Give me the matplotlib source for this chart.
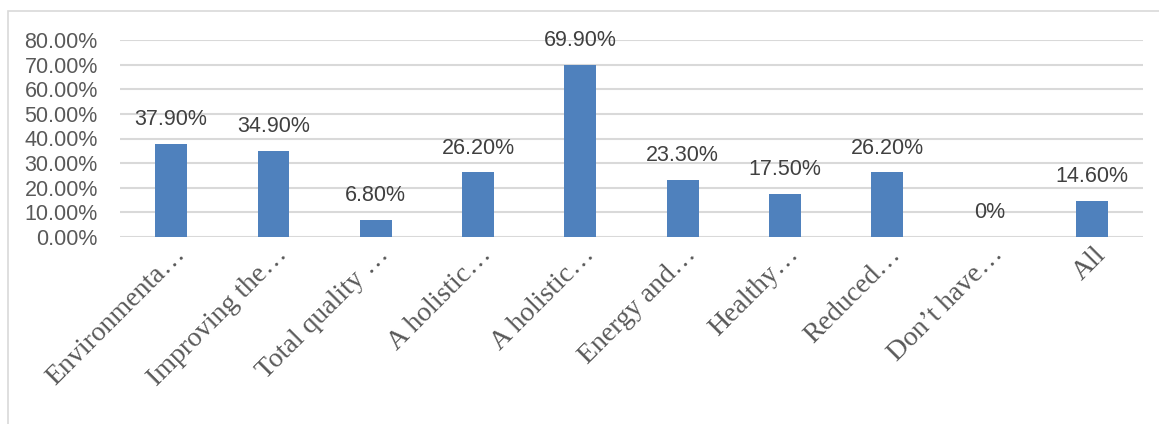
import matplotlib
matplotlib.use("Agg")
import matplotlib.pyplot as plt
import matplotlib.transforms as mtransforms
from matplotlib.patches import Rectangle
from matplotlib.ticker import FuncFormatter

# data
categories = ["Environmenta…", "Improving the…", "Total quality …", "A holistic…",
              "A holistic…", "Energy and…", "Healthy…", "Reduced…",
              "Don’t have…", "All"]
values = [37.9, 34.9, 6.8, 26.2, 69.9, 23.3, 17.5, 26.2, 0.0, 14.6]
value_labels = ["37.90%", "34.90%", "6.80%", "26.20%", "69.90%",
                "23.30%", "17.50%", "26.20%", "0%", "14.60%"]

W, H = 1159, 424
fig = plt.figure(figsize=(W / 100, H / 100), dpi=100)
ax = fig.add_axes([120 / W, 1 - 237 / H, (1143 - 120) / W, (237 - 40) / H])

# outer chart border (only left and top visible)
fig.patches.append(Rectangle((8 / W, -0.1), 1.2, (H - 11) / H + 0.1,
                             transform=fig.transFigure, fill=False,
                             edgecolor="#D9D9D9", linewidth=1.2))

x = list(range(len(categories)))
ax.bar(x, values, width=0.31, color="#4F81BD", zorder=3)

ax.set_xlim(-0.5, len(categories) - 0.5)
ax.set_ylim(0, 80)
ax.set_yticks(range(0, 81, 10))
ax.yaxis.set_major_formatter(FuncFormatter(lambda v, p: f"{v:.2f}%"))
ax.grid(axis="y", color="#D9D9D9", linewidth=1.5, zorder=0)
for s in ax.spines.values():
    s.set_visible(False)

ax.tick_params(axis="y", length=0, pad=16, labelsize=15.5, labelcolor="#595959")
for lab in ax.get_yticklabels():
    lab.set_family("Liberation Sans")

ax.set_xticks(x)
ax.set_xticklabels(categories, rotation=45, ha="right", va="center",
                   rotation_mode="anchor", family="Liberation Serif",
                   fontsize=20, color="#595959")
ax.tick_params(axis="x", length=0, pad=10)
shift = mtransforms.ScaledTranslation(10 / 100, 0, fig.dpi_scale_trans)
for lab in ax.get_xticklabels():
    lab.set_transform(lab.get_transform() + shift)

for xi, v, t in zip(x, values, value_labels):
    ax.annotate(t, (xi, v), xytext=(0, 10), textcoords="offset points",
                ha="center", va="bottom", fontsize=15.5, color="#404040",
                family="Liberation Sans")

fig.savefig("out.png", dpi=100, facecolor="white")
